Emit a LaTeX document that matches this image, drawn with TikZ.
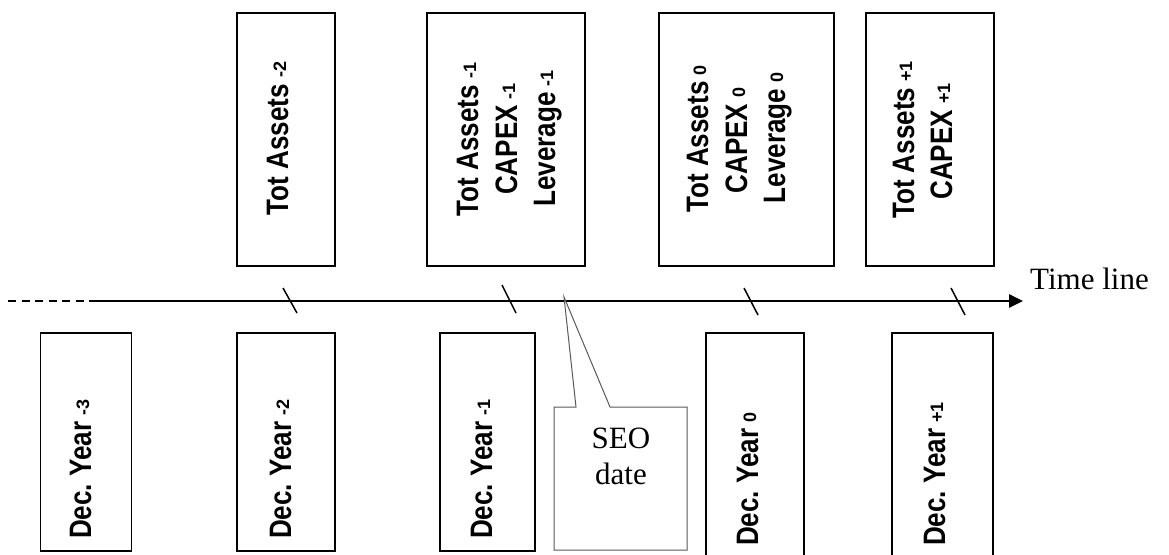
\documentclass[tikz,border=0pt]{standalone}
\usepackage{fontspec}
\usepackage{graphicx}
\setmainfont{Liberation Serif}
\newfontfamily\sansb{Liberation Sans}
\usetikzlibrary{arrows.meta}
\frenchspacing
\newcommand{\cond}[1]{\scalebox{0.84}[1]{#1}}
\newcommand{\subl}[1]{\hspace{6pt}\raisebox{2pt}{\fontsize{18}{18}\selectfont #1}}
\tikzset{
  box/.style={draw, line width=1.8pt, rectangle, inner sep=0pt},
  rt/.style={rotate=90, inner sep=0pt, font=\fontsize{31}{36}\selectfont\sansb\bfseries\frenchspacing},
  tickmark/.style={line width=1.5pt},
  tline/.style={line width=2.6pt},
  callout/.style={draw=black!65, line width=1pt},
  serif/.style={inner sep=0pt, font=\fontsize{31}{38}\selectfont}
}
\begin{document}
\begin{tikzpicture}[x=1pt, y=-1pt]
\clip (0,0) rectangle (1169,554);
\fill[white] (0,0) rectangle (1169,554);

% top boxes
\node[box, minimum width=98pt, minimum height=253pt] (tb1) at (286,139.5) {};
\node[box, minimum width=158pt, minimum height=253pt] (tb2) at (506,139.5) {};
\node[box, minimum width=175pt, minimum height=253pt] (tb3) at (746.5,139.5) {};
\node[box, minimum width=128pt, minimum height=253pt] (tb4) at (930,139.5) {};

% top texts
\node[rt, anchor=base] (t1a) at (288,138.5) {\cond{Tot Assets}\subl{-2}};
\node[rt, anchor=base] (t2a) at (478,139.5) {\cond{Tot Assets}\subl{-1}};
\node[rt, anchor=base] (t2b) at (517,139) {\cond{CAPEX}\subl{-1}};
\node[rt, anchor=base] (t2c) at (555,138.5) {\cond{Leverage}\subl{-1}};
\node[rt, anchor=base] (t3a) at (708,139) {\cond{Tot Assets}\subl{0}};
\node[rt, anchor=base] (t3b) at (747,140.5) {\cond{CAPEX}\subl{0}};
\node[rt, anchor=base] (t3c) at (785,138) {\cond{Leverage}\subl{0}};
\node[rt, anchor=base] (t4a) at (914,140) {\cond{Tot Assets}\subl{+1}};
\node[rt, anchor=base] (t4b) at (952,141.5) {\cond{CAPEX}\subl{+1}};

% bottom boxes
\node[box, minimum width=91pt, minimum height=218pt] (bb1) at (86,442) {};
\node[box, minimum width=98pt, minimum height=218pt] (bb2) at (286,442) {};
\node[box, minimum width=95pt, minimum height=218pt] (bb3) at (487.5,442) {};
\node[box, minimum width=98pt, minimum height=232pt] (bb4) at (755,449) {};
\node[box, minimum width=101pt, minimum height=232pt] (bb5) at (942.5,449) {};

% bottom texts
\node[rt, anchor=base west] (d1) at (91,539) {\cond{Dec. Year}\subl{-3}};
\node[rt, anchor=base west] (d2) at (291,539) {\cond{Dec. Year}\subl{-2}};
\node[rt, anchor=base west] (d3) at (492,539) {\cond{Dec. Year}\subl{-1}};
\node[rt, anchor=base west] (d4) at (758,546) {\cond{Dec. Year}\subl{0}};
\node[rt, anchor=base west] (d5) at (945,546) {\cond{Dec. Year}\subl{+1}};

% time line
\coordinate (ds) at (8,301);
\coordinate (ss) at (90,301);
\coordinate (te) at (1023,301);
\draw[line width=2pt, dash pattern=on 8pt off 5.5pt] (ds) -- (ss);
\draw[tline, -{Triangle[length=14pt,width=13pt]}] (ss) -- (te);
\node[serif, anchor=base west] (tltext) at (1030,289) {Time line};

% ticks
\draw[tickmark] (283,288) -- (297,313);
\draw[tickmark] (502,285) -- (516,313);
\draw[tickmark] (744,288) -- (758,315);
\draw[tickmark] (951,288) -- (965,315);

% SEO callout
\coordinate (tip) at (564,297);
\coordinate (bl) at (576,407);
\coordinate (br) at (610,407);
\coordinate (cr) at (687,407);
\coordinate (crb) at (687,550);
\coordinate (clb) at (554,550);
\coordinate (cl) at (554,407);
\draw[callout] (bl) -- (tip) -- (br) -- (cr) -- (crb) -- (clb) -- (cl) -- cycle;
\node[serif, anchor=base] (seo1) at (621,448) {SEO};
\node[serif, anchor=base] (seo2) at (621,484) {date};
\end{tikzpicture}
\end{document}
